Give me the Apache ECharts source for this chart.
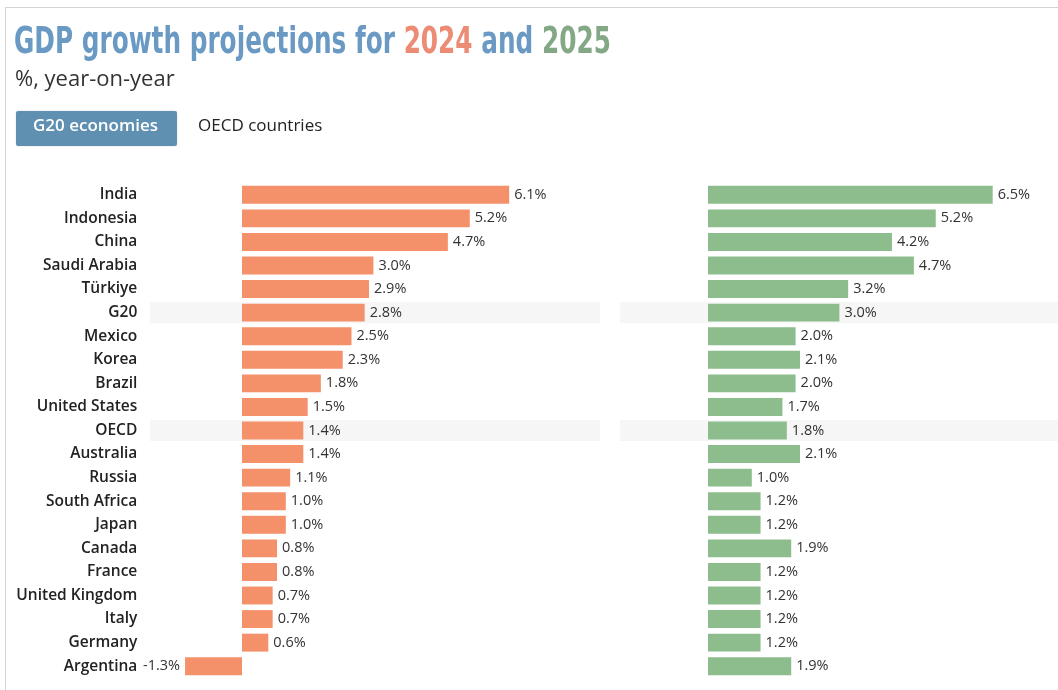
<!DOCTYPE html>
<html>
<head>
<meta charset="utf-8">
<script src="https://cdn.jsdelivr.net/npm/echarts@6/dist/echarts.min.js"></script>
<style>
  html, body { margin: 0; padding: 0; background: #fff; }
  #frame { position: absolute; left: 5px; top: 7px; width: 1053px; height: 683px;
           border-left: 1px solid #d4d4d4; border-top: 1px solid #d4d4d4; }
  #chart { position: absolute; left: 0; top: 0; width: 1058px; height: 690px; }
</style>
</head>
<body>
<div id="frame"></div>
<div id="chart"></div>
<script>
// Countries, top to bottom
const countries = ['India', 'Indonesia', 'China', 'Saudi Arabia', 'Türkiye', 'G20', 'Mexico', 'Korea',
  'Brazil', 'United States', 'OECD', 'Australia', 'Russia', 'South Africa', 'Japan', 'Canada',
  'France', 'United Kingdom', 'Italy', 'Germany', 'Argentina'];
// Projected real GDP growth, %
const growth2024 = [6.1, 5.2, 4.7, 3.0, 2.9, 2.8, 2.5, 2.3, 1.8, 1.5, 1.4, 1.4, 1.1, 1.0, 1.0, 0.8, 0.8, 0.7, 0.7, 0.6, -1.3];
const growth2025 = [6.5, 5.2, 4.2, 4.7, 3.2, 3.0, 2.0, 2.1, 2.0, 1.7, 1.8, 2.1, 1.0, 1.2, 1.2, 1.9, 1.2, 1.2, 1.2, 1.2, 1.9];
// Aggregate rows get a soft background band
const aggregates = ['G20', 'OECD'];

const ORANGE = '#f4916a';
const GREEN = '#8dbd8c';
const BAND = '#f6f6f6';
const FONT = '"Open Sans", "Noto Sans", sans-serif';
const TITLE_FONT = '"DejaVu Sans", sans-serif';

const bandData = countries.map(c => aggregates.includes(c) ? 1 : null);
const gridTop = 183, gridBottom = 12;

const chart = echarts.init(document.getElementById('chart'), null, { renderer: 'canvas' });

function valueLabel(pos) {
  return {
    show: true, position: pos, distance: 5,
    formatter: p => p.value.toFixed(1) + '%',
    color: '#333', fontFamily: FONT, fontSize: 14.5
  };
}

const titleRun = color => ({ fill: color, fontFamily: TITLE_FONT, fontWeight: 'bold', fontSize: 38 });

chart.setOption({
  animation: false,
  graphic: [
    {
      // Condensed headline: bold face squeezed horizontally
      type: 'text', x: 14, y: 24, scaleX: 0.652, scaleY: 1,
      style: {
        text: '{b|GDP growth projections for }{o|2024}{b| and }{g|2025}',
        rich: {
          b: titleRun('#6a9ac3'),
          o: titleRun('#ec8c74'),
          g: titleRun('#84a886')
        }
      }
    },
    {
      type: 'text', left: 15, top: 69,
      style: { text: '%, year-on-year', fill: '#333', font: '22px ' + FONT }
    },
    {
      type: 'rect', left: 16, top: 111, shape: { width: 161, height: 35, r: 2 },
      style: { fill: '#5f90b1', shadowColor: 'rgba(0,0,0,0.15)', shadowBlur: 2 }
    },
    {
      type: 'text', left: 33, top: 118,
      style: { text: 'G20 economies', fill: '#fff', font: '600 17px ' + FONT }
    },
    {
      type: 'text', left: 198, top: 118,
      style: { text: 'OECD countries', fill: '#222', font: '17px ' + FONT }
    }
  ],
  grid: [
    { left: 176.3, width: 372.3, top: gridTop, bottom: gridBottom },   // 2024
    { left: 708, width: 306.6, top: gridTop, bottom: gridBottom },     // 2025
    { left: 150, width: 450, top: gridTop, bottom: gridBottom },       // band left
    { left: 620, width: 438, top: gridTop, bottom: gridBottom }        // band right
  ],
  xAxis: [
    { gridIndex: 0, type: 'value', min: -1.5, max: 7, show: false },
    { gridIndex: 1, type: 'value', min: 0, max: 7, show: false },
    { gridIndex: 2, type: 'value', min: 0, max: 1, show: false },
    { gridIndex: 3, type: 'value', min: 0, max: 1, show: false }
  ],
  yAxis: [
    {
      gridIndex: 0, type: 'category', data: countries, inverse: true,
      axisLine: { show: false, onZero: false }, axisTick: { show: false },
      axisLabel: { margin: 39, color: '#222', fontFamily: FONT, fontWeight: 600, fontSize: 15.5 }
    },
    {
      gridIndex: 1, type: 'category', data: countries, inverse: true,
      axisLine: { show: false, onZero: false }, axisTick: { show: false }, axisLabel: { show: false }
    },
    { gridIndex: 2, type: 'category', data: countries, inverse: true, show: false },
    { gridIndex: 3, type: 'category', data: countries, inverse: true, show: false }
  ],
  series: [
    {
      name: 'band-left', type: 'bar', xAxisIndex: 2, yAxisIndex: 2, data: bandData,
      barWidth: '90%', itemStyle: { color: BAND }, silent: true, z: 0
    },
    {
      name: 'band-right', type: 'bar', xAxisIndex: 3, yAxisIndex: 3, data: bandData,
      barWidth: '90%', itemStyle: { color: BAND }, silent: true, z: 0
    },
    {
      name: '2024', type: 'bar', xAxisIndex: 0, yAxisIndex: 0, z: 2,
      barCategoryGap: '24%',
      data: growth2024.map(v => ({ value: v, label: valueLabel(v < 0 ? 'left' : 'right') })),
      itemStyle: { color: ORANGE }
    },
    {
      name: '2025', type: 'bar', xAxisIndex: 1, yAxisIndex: 1, z: 2,
      barCategoryGap: '24%',
      data: growth2025,
      label: valueLabel('right'),
      itemStyle: { color: GREEN }
    }
  ]
});
</script>
</body>
</html>
